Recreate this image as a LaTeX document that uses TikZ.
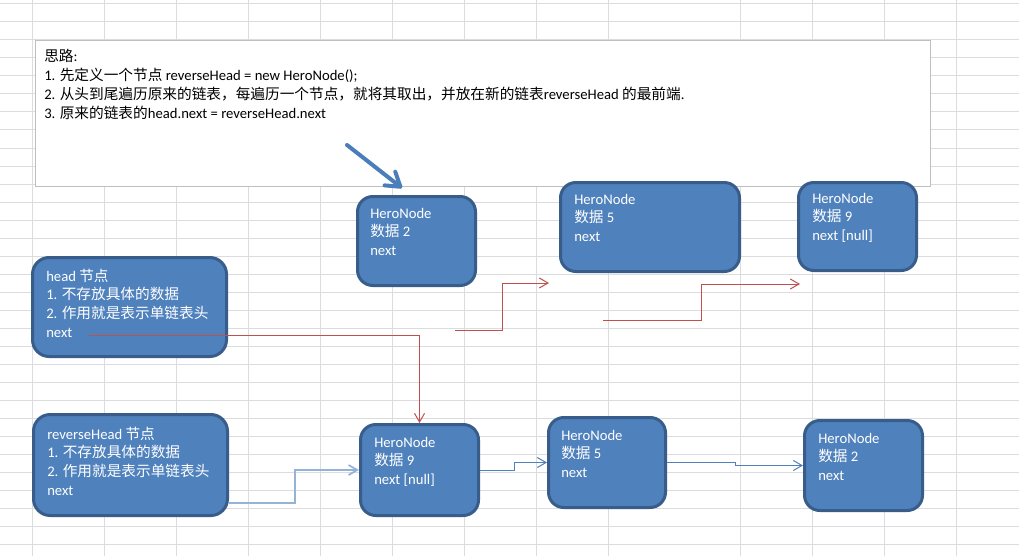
\documentclass[tikz,border=0pt]{standalone}
\usepackage{fontspec}
\setmainfont{Carlito}
\newfontfamily\cjkf{Noto Sans CJK SC}
\newcommand\cjktext[1]{{\cjkf #1}}
\usetikzlibrary{arrows.meta,fit}
\definecolor{gridc}{HTML}{DADCDD}
\definecolor{boxfill}{HTML}{4F81BD}
\definecolor{boxedge}{HTML}{385D8A}
\definecolor{redln}{HTML}{C0504D}
\definecolor{blueln}{HTML}{4F81BD}
\definecolor{lightblueln}{HTML}{95B3D7}
\definecolor{bigarrowc}{HTML}{4A7EBB}
\definecolor{noteedge}{HTML}{BFBFBF}
\begin{document}
\begin{tikzpicture}[x=0.75pt,y=-0.75pt,
  gridline/.style={draw=gridc,line width=0.75pt},
  hbox/.style={draw=boxedge,fill=boxfill,line width=2.25pt,rounded corners=11.5pt,inner sep=0pt},
  headbox/.style={hbox,rounded corners=12.5pt},
  txt/.style={anchor=north west,inner sep=0pt,text=white,align=left,font=\fontsize{11}{14}\selectfont},
  notebox/.style={draw=noteedge,fill=white,line width=0.75pt,inner sep=0pt},
  notetxt/.style={anchor=north west,inner sep=0pt,align=left,font=\fontsize{11}{14.25}\selectfont},
  redarrow/.style={draw=redln,line width=0.75pt,-{Straight Barb[length=6.5pt,width=7.5pt]}},
  bluearrow/.style={draw=blueln,line width=0.75pt,-{Straight Barb[length=6.5pt,width=7.5pt]}},
  lbluearrow/.style={draw=lightblueln,line width=1.3pt,-{Straight Barb[length=6.5pt,width=7.5pt]}},
  bigarrow/.style={draw=bigarrowc,line width=3pt,line cap=round,-{Straight Barb[length=10pt,width=13pt,line cap=round,line join=round]}}
]
\useasboundingbox (0,0) rectangle (1019,556);
\fill[white] (0,0) rectangle (1019,556);
% spreadsheet grid
\foreach \gx in {32,104,176,248,320,392,464,536,608,740,812,884,956}
  \draw[gridline] (\gx,0) -- (\gx,556);
\foreach \k in {0,...,30}
  \draw[gridline] (0,{4+18*\k}) -- (1019,{4+18*\k});

% note box
\node[notebox, fit={(35,41) (930,186)}] (note) {};
\node[notetxt] (notetext) at (44,47.67) {\rule{0pt}{10pt}\cjktext{思路}:\\
1. \cjktext{先定义一个节点} reverseHead = new HeroNode();\\
2. \cjktext{从头到尾遍历原来的链表，每遍历一个节点，就将其取出，并放在新的链表}reverseHead \cjktext{的最前端}.\\
3. \cjktext{原来的链表的}head.next = reverseHead.next};

% top row nodes
\node[hbox, fit={(357.5,196.5) (475.5,285.5)}] (hn2t) {};
\node[txt] (hn2ttext) at (370,204.67) {\rule{0pt}{10pt}HeroNode\\ \cjktext{数据} 2\\ next};
\node[hbox, fit={(560.5,182.5) (739.5,271.5)}] (hn5t) {};
\node[txt] (hn5ttext) at (574,190.67) {\rule{0pt}{10pt}HeroNode\\ \cjktext{数据} 5\\ next};
\node[hbox, fit={(798.5,182.5) (916.5,270.5)}] (hn9t) {};
\node[txt] (hn9ttext) at (812,189.67) {\rule{0pt}{10pt}HeroNode\\ \cjktext{数据} 9\\ next [null]};

% head node
\node[headbox, fit={(32.5,257.5) (226.5,356.5)}] (head) {};
\node[txt] (headtext) at (46,267.67) {\rule{0pt}{10pt}head \cjktext{节点}\\ 1. \cjktext{不存放具体的数据}\\ 2. \cjktext{作用就是表示单链表头}\\ next};

% reverseHead node
\node[headbox, fit={(33.5,414.5) (227.5,515.5)}] (rh) {};
\node[txt] (rhtext) at (47,425.67) {\rule{0pt}{10pt}reverseHead \cjktext{节点}\\ 1. \cjktext{不存放具体的数据}\\ 2. \cjktext{作用就是表示单链表头}\\ next};

% bottom row nodes
\node[hbox, fit={(360.5,424.5) (478.5,515.5)}] (hn9b) {};
\node[txt] (hn9btext) at (374,433.67) {\rule{0pt}{10pt}HeroNode\\ \cjktext{数据} 9\\ next [null]};
\node[hbox, fit={(548.5,417.5) (665.5,507.5)}] (hn5b) {};
\node[txt] (hn5btext) at (561,426.67) {\rule{0pt}{10pt}HeroNode\\ \cjktext{数据} 5\\ next};
\node[hbox, fit={(804.5,420.5) (922.5,510.5)}] (hn2b) {};
\node[txt] (hn2btext) at (818,429.67) {\rule{0pt}{10pt}HeroNode\\ \cjktext{数据} 2\\ next};

% big blue arrow
\coordinate (bigtail) at (347,145);
\coordinate (bigtip) at (402,188);
\draw[bigarrow] (bigtail) -- (bigtip);

% red connectors
\coordinate (headnext) at (89,335);
\draw[redarrow] (headnext) -| (hn9b.north);
\coordinate (r2a) at (455,330);
\coordinate (r2b) at (549,283);
\draw[redarrow] (r2a) -- ++(47,0) |- (r2b);
\coordinate (r3a) at (603,320);
\coordinate (r3b) at (800,284);
\draw[redarrow] (r3a) -- ++(98,0) |- (r3b);

% blue connectors
\coordinate (rhout) at (229,503);
\draw[lbluearrow] (rhout) -- ++(66,0) |- (hn9b.west);
\draw[bluearrow] (hn9b.east) -- ++(34,0) |- (hn5b.west);
\draw[bluearrow] (hn5b.east) -- ++(68,0) |- (hn2b.west);
\end{tikzpicture}
\end{document}
